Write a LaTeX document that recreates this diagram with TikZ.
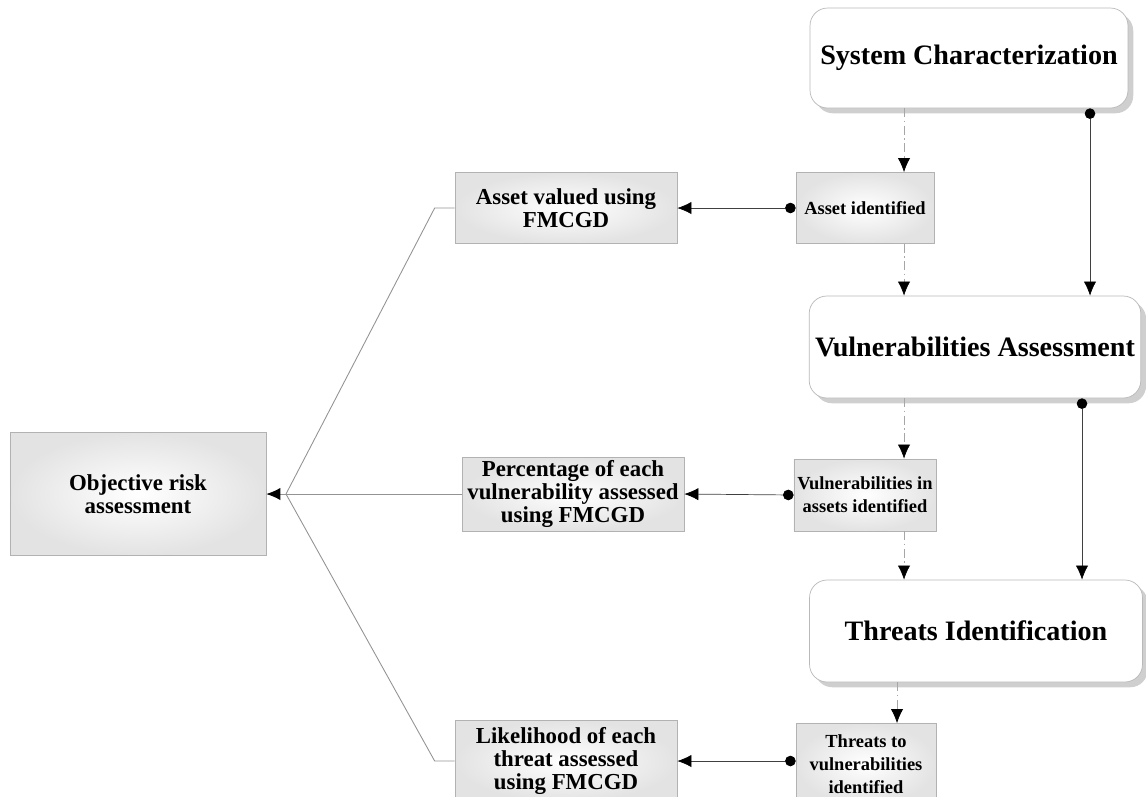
\documentclass[tikz,border=0pt]{standalone}
\usepackage{fontspec}
\setmainfont{Liberation Serif}
\usepackage{tikz}
\usetikzlibrary{arrows.meta,shadows,calc}

\tikzset{
  graybox/.style={draw=gray!60, inner color=white, outer color=gray!22,
    align=center, font=\bfseries\fontsize{13}{13}\selectfont, inner sep=2pt},
  smallbox/.style={graybox, font=\bfseries\fontsize{10.5}{13}\selectfont},
  roundbox/.style={draw=gray!55, fill=white, rounded corners=10pt,
    drop shadow={shadow xshift=3pt, shadow yshift=-3pt, fill=gray!75},
    align=center, font=\bfseries\fontsize{16}{18}\selectfont},
  dotarrow/.style={draw=black!75, {Circle[length=6pt,black]}-{Latex[length=8pt,width=7pt,black]}},
  flowarrow/.style={draw=gray!70, dash pattern=on 5pt off 2pt on 1pt off 2pt,
    -{Latex[length=8pt,width=7pt,black]}},
  feedline/.style={draw=gray!85, line width=0.5pt}
}

\begin{document}
\begin{tikzpicture}[x=0.02cm, y=-0.02cm]
\useasboundingbox (0,0) rectangle (1146,796);

% process column
\node[roundbox, minimum width=6.36cm, minimum height=2.0cm] (sc) at (969,58) {System Characterization};
\node[roundbox, minimum width=6.6cm, minimum height=2.04cm] (va) at (975,347) {Vulnerabilities Assessment};
\node[roundbox, minimum width=6.66cm, minimum height=2.04cm] (ti) at (976,631) {Threats Identification};

% outputs
\node[smallbox, minimum width=2.76cm, minimum height=1.42cm] (ai) at (865,208) {Asset identified};
\node[smallbox, minimum width=2.78cm, minimum height=1.44cm] (vi) at (865,495) {Vulnerabilities in\\assets identified};
\node[smallbox, minimum width=2.8cm, minimum height=1.62cm] (tv) at (866,764) {Threats to\\vulnerabilities\\identified};

% FMCGD boxes
\node[graybox, minimum width=4.44cm, minimum height=1.42cm] (av) at (566,208) {Asset valued using\\FMCGD};
\node[graybox, minimum width=4.44cm, minimum height=1.46cm] (pe) at (573,494) {Percentage of each\\vulnerability assessed\\using FMCGD};
\node[graybox, minimum width=4.44cm, minimum height=1.62cm] (lh) at (566,761) {Likelihood of each\\threat assessed\\using FMCGD};

\node[graybox, minimum width=5.12cm, minimum height=2.46cm] (or) at (138,494) {Objective risk\\assessment};

% columns for vertical links
\coordinate (m1) at (904,0);
\coordinate (m2) at (897,0);
\coordinate (r1) at (1090,0);
\coordinate (r2) at (1082,0);
\coordinate (jn) at (286,494);

\draw[flowarrow] (sc.south -| m1) -- (ai.north -| m1);
\draw[flowarrow] (ai.south -| m1) -- (va.north -| m1);
\draw[flowarrow] (va.south -| m1) -- (vi.north -| m1);
\draw[flowarrow] (vi.south -| m1) -- (ti.north -| m1);
\draw[flowarrow] (ti.south -| m2) -- (tv.north -| m2);

\draw[dotarrow] (sc.south -| r1) -- (va.north -| r1);
\draw[dotarrow] (va.south -| r2) -- (ti.north -| r2);

\draw[dotarrow] (ai.west) -- (av.east);
\draw[dotarrow] (vi.west) -- (pe.east);
\draw[dotarrow] (tv.west |- lh.east) -- (lh.east);

% to objective assessment
\draw[feedline] (av.west) -- ++(-20,0) -- (jn);
\draw[feedline] (lh.west) -- ++(-20,0) -- (jn);
\draw[feedline, -{Latex[length=8pt,width=7pt,black]}] (pe.west) -- (or.east);
\end{tikzpicture}
\end{document}
